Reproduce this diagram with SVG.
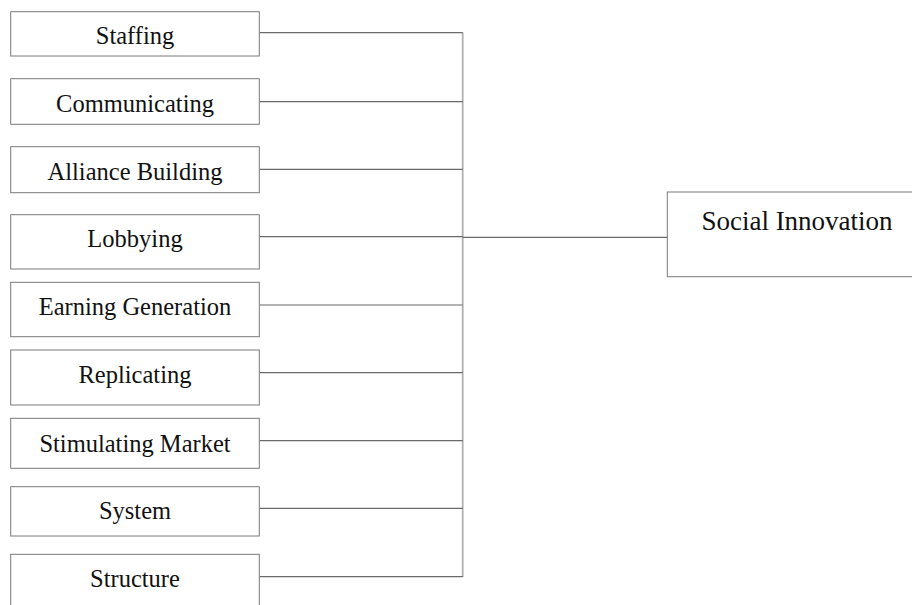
<svg xmlns="http://www.w3.org/2000/svg" width="912" height="605" viewBox="0 0 912 605">
<style>
.box{fill:#fff;stroke:#7a7a7a;stroke-width:1}
.lbl{font-family:"Liberation Serif","Times New Roman",serif;font-size:24.5px;fill:#111;text-anchor:middle}
.big{font-size:27px}
.con{stroke:#6a6a6a;stroke-width:1.2;fill:none}
.bus{stroke:#b0b0b0;stroke-width:1.8;fill:none}
</style>
<rect width="912" height="605" fill="#fff"/>
<g id="connectors">
<line class="bus" x1="462.7" y1="32.5" x2="462.7" y2="577"/>
<path class="con" d="M259.5 32.7H462.7M259.5 101.7H462.7M259.5 169.3H462.7M259.5 236.7H462.7M259.5 305H462.7M259.5 372.7H462.7M259.5 440.7H462.7M259.5 508.3H462.7M259.5 576.7H462.7M462.7 237.3H667.3"/>
</g>
<g id="staffing"><rect class="box" x="10.7" y="11.7" width="248.6" height="44.3"/><text class="lbl" x="135" y="44.3">Staffing</text></g>
<g id="communicating"><rect class="box" x="10.7" y="78.7" width="248.6" height="45.6"/><text class="lbl" x="135" y="111.7">Communicating</text></g>
<g id="alliance"><rect class="box" x="10.7" y="146.7" width="248.6" height="46"/><text class="lbl" x="135" y="180">Alliance Building</text></g>
<g id="lobbying"><rect class="box" x="10.7" y="214.7" width="248.6" height="54.3"/><text class="lbl" x="135" y="246.7">Lobbying</text></g>
<g id="earning"><rect class="box" x="10.7" y="282.3" width="248.6" height="54.4"/><text class="lbl" x="135" y="315">Earning Generation</text></g>
<g id="replicating"><rect class="box" x="10.7" y="350" width="248.6" height="55"/><text class="lbl" x="135" y="382.5">Replicating</text></g>
<g id="stimulating"><rect class="box" x="10.7" y="418.3" width="248.6" height="50"/><text class="lbl" x="135" y="451.7">Stimulating Market</text></g>
<g id="system"><rect class="box" x="10.7" y="486.7" width="248.6" height="49.3"/><text class="lbl" x="135" y="519">System</text></g>
<g id="structure"><rect class="box" x="10.7" y="554.3" width="248.6" height="60"/><text class="lbl" x="135" y="586.7">Structure</text></g>
<g id="social"><rect class="box" x="667.3" y="192" width="260" height="84.7"/><text class="lbl big" x="797" y="230">Social Innovation</text></g>
</svg>
